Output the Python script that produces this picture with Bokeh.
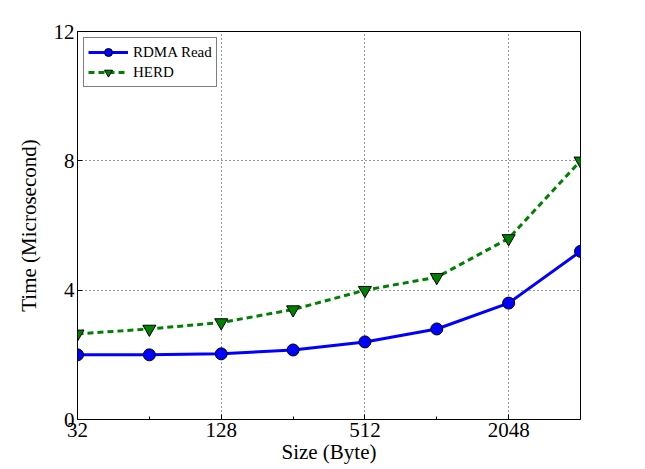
from bokeh.plotting import figure
from bokeh.models import FixedTicker, Legend, LegendItem, Range1d
from bokeh.embed import file_html
from bokeh.resources import INLINE

sizes = [32, 64, 128, 256, 512, 1024, 2048, 4096]
rdma_read = [2.0, 2.0, 2.03, 2.15, 2.4, 2.8, 3.6, 5.2]
herd = [2.65, 2.8, 3.0, 3.4, 4.0, 4.4, 5.6, 8.0]
x_ticks = [32, 128, 512, 2048]
x_minor = [64, 256, 1024]
y_ticks = [0, 4, 8, 12]

FONT = "Liberation Serif"

p = figure(width=645, height=469, x_axis_type="log", output_backend="svg",
           toolbar_location=None, x_range=Range1d(32, 4096), y_range=Range1d(0, 12),
           min_border_left=77, min_border_right=65, min_border_top=31, min_border_bottom=50)
p.background_fill_color = "white"
p.border_fill_color = "white"
p.outline_line_color = "black"
p.outline_line_width = 1

l1 = p.line(sizes, rdma_read, line_color="#0000ff", line_width=3)
m1 = p.scatter(sizes, rdma_read, marker="circle", size=12, fill_color="#0000ff",
               line_color="black", line_width=1)
l2 = p.line(sizes, herd, line_color="#008000", line_width=3, line_dash="6 4")
m2 = p.scatter(sizes, herd, marker="inverted_triangle", size=13, fill_color="#008000",
               line_color="black", line_width=1)

for ax in (p.xaxis[0], p.yaxis[0]):
    ax.major_label_text_font = FONT
    ax.major_label_text_font_size = "21px"
    ax.major_label_text_color = "black"
    ax.axis_label_text_font = FONT
    ax.axis_label_text_font_size = "21px"
    ax.axis_label_text_font_style = "normal"
    ax.axis_label_text_color = "black"
    ax.axis_line_color = "black"
    ax.major_tick_in = 5
    ax.major_tick_out = 0
    ax.minor_tick_in = 3
    ax.minor_tick_out = 0

p.xaxis.ticker = FixedTicker(ticks=x_ticks, minor_ticks=x_minor)
p.yaxis.ticker = FixedTicker(ticks=y_ticks, minor_ticks=[])
p.xaxis.axis_label = "Size (Byte)"
p.yaxis.axis_label = "Time (Microsecond)"
p.xaxis.major_label_standoff = 3
p.yaxis.major_label_standoff = 3
p.xaxis.axis_label_standoff = 0
p.yaxis.axis_label_standoff = 10

p.xgrid.ticker = FixedTicker(ticks=x_ticks)
p.ygrid.ticker = FixedTicker(ticks=y_ticks)
for g in (p.xgrid[0], p.ygrid[0]):
    g.grid_line_color = "black"
    g.grid_line_dash = "1 3"
    g.grid_line_width = 1
    g.grid_line_alpha = 0.8

legend = Legend(items=[LegendItem(label="RDMA Read", renderers=[l1, m1]),
                       LegendItem(label="HERD", renderers=[l2, m2])],
                location="top_left")
legend.label_text_font = FONT
legend.label_text_font_size = "15px"
legend.label_text_color = "black"
legend.border_line_color = "black"
legend.border_line_width = 1
legend.margin = 6
legend.padding = 4
legend.spacing = 0
legend.glyph_width = 40
legend.glyph_height = 20
legend.label_height = 20
p.add_layout(legend)

open("out.html", "w").write(file_html(p, INLINE))
